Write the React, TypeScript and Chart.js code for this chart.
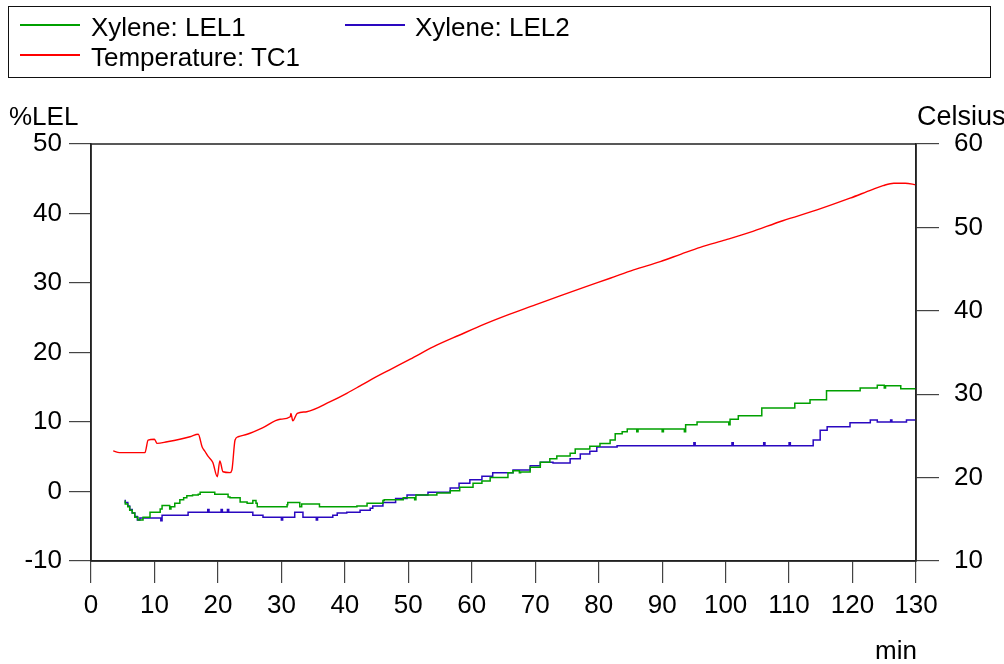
import React, { useEffect, useRef } from "react";
import { Chart, registerables } from "chart.js";

Chart.register(...registerables);

// ---- Data ----
const xTicks = [0, 10, 20, 30, 40, 50, 60, 70, 80, 90, 100, 110, 120, 130];

const lel1Time = [
  5.4, 5.8, 6.1, 6.5, 6.9, 7.4, 8.2, 8.6, 9.3, 9.6, 10.9, 11.2, 12.4, 12.6, 13.2, 14.0, 14.6, 15.1, 16.0, 16.9,
  17.2, 19.5, 19.7, 21.6, 21.9, 23.5, 24.6, 25.5, 26.0, 26.2, 26.9, 30.9, 31.0, 31.8, 32.9, 33.2, 36.0, 36.2,
  41.9, 43.5, 44.4, 46.0, 46.2, 49.2, 51.0, 51.2, 54.5, 56.6, 58.1, 60.2, 61.6, 62.9, 65.7, 66.5, 67.5, 67.7,
  69.2, 70.8, 72.3, 73.4, 75.5, 76.3, 78.6, 80.2, 81.8, 82.6, 83.7, 84.5, 86.0, 86.2, 90.0, 90.2, 93.5, 93.7,
  95.5, 100.5, 100.7, 102.0, 105.7, 110.9, 113.3, 115.9, 121.2, 123.9, 125.0, 125.2, 127.6, 127.8, 130.0,
];
const lel1Value = [
  -1.3, -1.8, -2.2, -2.7, -3.1, -3.7, -4.1, -3.7, -3.7, -3.0, -3.0, -2.5, -2.0, -2.5, -2.2, -1.7, -1.2, -0.9, -0.6, -0.5,
  -0.4, -0.1, -0.4, -0.4, -0.8, -0.9, -1.5, -1.7, -1.3, -1.7, -2.2, -2.2, -1.9, -1.6, -1.6, -2.2, -1.8, -2.2,
  -2.2, -2.1, -1.7, -1.7, -1.3, -1.2, -0.9, -1.2, -0.5, -0.2, 0.1, 0.6, 1.2, 1.5, 2.0, 2.7, 3.0, 2.7,
  2.8, 3.5, 4.2, 4.7, 5.1, 5.5, 6.1, 6.5, 6.9, 7.4, 8.3, 8.6, 9.0, 8.6, 9.0, 8.6, 9.0, 8.6,
  9.6, 10.0, 9.6, 10.4, 10.9, 12.0, 12.7, 13.2, 14.5, 14.9, 15.3, 14.9, 15.2, 14.8, 14.8,
];

const lel2Time = [
  5.4, 5.8, 6.1, 6.5, 6.9, 7.3, 7.7, 8.5, 11.0, 11.2, 15.3, 15.9, 18.4, 18.6, 20.5, 20.7, 21.5, 21.7, 25.5,
  27.1, 28.7, 30.0, 30.2, 32.1, 32.6, 33.4, 34.2, 35.5, 35.7, 38.1, 38.8, 40.3, 42.4, 44.0, 44.4, 46.0, 48.0,
  49.8, 53.1, 56.6, 58.0, 59.7, 61.6, 63.3, 66.5, 69.2, 70.8, 72.8, 75.5, 77.1, 78.6, 79.7, 82.9, 83.4, 95.0,
  95.2, 101.0, 101.2, 106.0, 106.2, 110.0, 110.2, 113.8, 114.9, 116.0, 119.6, 122.8, 123.9, 126.0, 126.2, 128.5,
  128.7, 130.0,
];
const lel2Value = [
  -1.2, -1.6, -2.1, -2.6, -3.1, -3.6, -4.1, -3.8, -3.8, -4.2, -3.4, -3.0, -3.0, -2.6, -3.0, -2.6, -3.0, -2.6, -3.0,
  -3.4, -3.7, -3.7, -4.1, -3.7, -3.0, -3.0, -3.7, -3.7, -4.1, -3.7, -3.4, -3.1, -3.0, -2.7, -2.4, -2.1, -1.6,
  -1.0, -0.5, -0.1, 0.5, 1.2, 1.7, 2.2, 2.7, 3.1, 3.7, 4.2, 4.1, 4.7, 5.4, 5.8, 6.4, 6.6, 6.6,
  7.0, 6.6, 7.0, 6.6, 7.0, 6.6, 7.0, 6.6, 7.4, 8.8, 9.3, 9.9, 10.3, 10.0, 10.3, 10.0,
  10.3, 10.3,
];

const tc1Time = [
  3.5, 4.5, 8.5, 9.0, 10.0, 10.4, 12.0, 14.0, 15.6, 16.9, 17.5, 18.0, 18.4, 19.2, 19.9, 20.3, 20.8, 21.9, 22.2,
  22.7, 23.2, 24.6, 27.1, 29.8, 31.4, 31.5, 31.8, 32.5, 34.0, 37.7, 40.3, 42.4, 44.0, 47.0, 50.3, 54.0, 58.1,
  62.0, 66.0, 70.0, 73.9, 78.0, 81.8, 85.5, 89.7, 93.0, 96.0, 100.0, 103.8, 109.0, 114.4, 119.6, 123.0, 124.8,
  126.5, 128.3, 130.0,
];
const tc1Value = [
  23.2, 23.0, 23.0, 24.5, 24.6, 24.1, 24.3, 24.6, 24.9, 25.2, 23.7, 23.1, 22.6, 21.8, 20.1, 22.0, 20.7, 20.6, 20.9,
  24.5, 24.9, 25.2, 26.0, 27.0, 27.3, 27.7, 26.8, 27.7, 27.9, 29.1, 30.1, 31.0, 31.7, 32.9, 34.2, 35.7, 37.1,
  38.4, 39.6, 40.7, 41.8, 42.9, 43.9, 44.9, 45.9, 46.8, 47.6, 48.5, 49.4, 50.8, 52.1, 53.5, 54.5, 55.0,
  55.3, 55.3, 55.1,
];

const seriesNames = ["Xylene: LEL1", "Xylene: LEL2", "Temperature: TC1"];
const seriesColors = ["#00a000", "#2a08c0", "#ff0000"];

const FONT = '"Liberation Sans", Arial, Helvetica, sans-serif';

function toPoints(xs: number[], ys: number[]) {
  return xs.map((x, i) => ({ x, y: ys[i] }));
}

export default function App() {
  const ref = useRef<HTMLCanvasElement>(null);

  useEffect(() => {
    if (!ref.current) return;

    const framePlugin = {
      id: "frameAndTitles",
      afterDraw(chart: any) {
        const { ctx, chartArea: a } = chart;
        ctx.save();
        ctx.strokeStyle = "#222";
        ctx.lineWidth = 1.5;
        ctx.strokeRect(a.left, a.top, a.right - a.left, a.bottom - a.top);
        ctx.fillStyle = "#000";
        ctx.font = `26px ${FONT}`;
        ctx.textBaseline = "alphabetic";
        ctx.textAlign = "left";
        ctx.fillText("%LEL", 9, 125);
        ctx.font = `27px ${FONT}`;
        ctx.fillText("Celsius", 917, 125);
        ctx.font = `26px ${FONT}`;
        ctx.fillText("min", 875, 659);
        ctx.restore();
      },
    };

    const tickFont = { family: FONT, size: 26 };

    const chart = new Chart(ref.current, {
      type: "line",
      data: {
        datasets: [
          {
            label: seriesNames[0],
            data: toPoints(lel1Time, lel1Value),
            borderColor: seriesColors[0],
            borderWidth: 1.5,
            pointRadius: 0,
            stepped: "after",
            yAxisID: "y",
          },
          {
            label: seriesNames[1],
            data: toPoints(lel2Time, lel2Value),
            borderColor: seriesColors[1],
            borderWidth: 1.5,
            pointRadius: 0,
            stepped: "after",
            yAxisID: "y",
          },
          {
            label: seriesNames[2],
            data: toPoints(tc1Time, tc1Value),
            borderColor: seriesColors[2],
            borderWidth: 1.4,
            pointRadius: 0,
            cubicInterpolationMode: "monotone",
            yAxisID: "y1",
          },
        ],
      },
      options: {
        animation: false,
        responsive: false,
        maintainAspectRatio: false,
        layout: { padding: { top: 144, left: 0, right: 0, bottom: 0 } },
        plugins: { legend: { display: false }, tooltip: { enabled: false } },
        scales: {
          x: {
            type: "linear",
            position: "bottom",
            min: 0,
            max: 130,
            afterBuildTicks: (s: any) => {
              s.ticks = xTicks.map((v) => ({ value: v }));
            },
            afterFit: (s: any) => {
              s.height = 103;
            },
            ticks: { font: tickFont, color: "#000", padding: 7, maxRotation: 0, autoSkip: false },
            grid: { drawOnChartArea: false, tickLength: 22, color: "#444", lineWidth: 1.2 },
            border: { color: "#222", width: 1.5 },
          },
          y: {
            type: "linear",
            position: "left",
            min: -10,
            max: 50,
            ticks: { stepSize: 10, font: tickFont, color: "#000", padding: 7 },
            afterFit: (s: any) => {
              s.width = 91;
            },
            grid: { drawOnChartArea: false, tickLength: 22, color: "#444", lineWidth: 1.2 },
            border: { color: "#222", width: 1.5 },
          },
          y1: {
            type: "linear",
            position: "right",
            min: 10,
            max: 60,
            ticks: { stepSize: 10, font: tickFont, color: "#000", padding: 15 },
            afterFit: (s: any) => {
              s.width = 88;
            },
            grid: { drawOnChartArea: false, tickLength: 23, color: "#444", lineWidth: 1.2 },
            border: { color: "#222", width: 1.5 },
          },
        },
      },
      plugins: [framePlugin],
    } as any);

    return () => chart.destroy();
  }, []);

  const textStyle: React.CSSProperties = {
    position: "absolute",
    fontFamily: FONT,
    fontSize: 26,
    lineHeight: "30px",
    color: "#000",
    whiteSpace: "nowrap",
  };
  const lineStyle = (color: string, left: number, top: number): React.CSSProperties => ({
    position: "absolute",
    left,
    top,
    width: 60,
    height: 1.5,
    background: color,
  });

  return (
    <div style={{ position: "fixed", left: 0, top: 0, width: 1004, height: 664, background: "#fff", overflow: "hidden" }}>
      <canvas ref={ref} width={1004} height={664} style={{ position: "absolute", left: 0, top: 0 }} />
      <div
        style={{
          position: "absolute",
          left: 8,
          top: 6,
          width: 981,
          height: 70,
          border: "1.5px solid #111",
        }}
      />
      <div style={lineStyle(seriesColors[0], 20, 24)} />
      <div style={{ ...textStyle, left: 91, top: 12 }}>{seriesNames[0]}</div>
      <div style={lineStyle(seriesColors[1], 345, 24)} />
      <div style={{ ...textStyle, left: 415, top: 12 }}>{seriesNames[1]}</div>
      <div style={lineStyle(seriesColors[2], 20, 54)} />
      <div style={{ ...textStyle, left: 91, top: 42 }}>{seriesNames[2]}</div>
    </div>
  );
}
